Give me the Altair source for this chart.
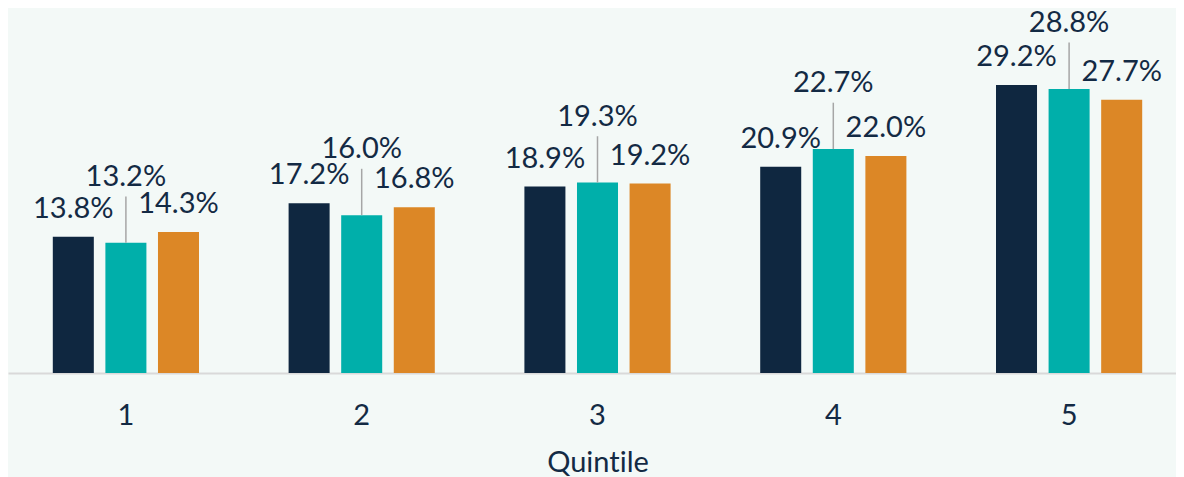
import altair as alt
import pandas as pd

quintiles = ["1", "2", "3", "4", "5"]
series_names = ["Series A", "Series B", "Series C"]
series_a = [13.8, 17.2, 18.9, 20.9, 29.2]
series_b = [13.2, 16.0, 19.3, 22.7, 28.8]
series_c = [14.3, 16.8, 19.2, 22.0, 27.7]
colors = ["#0f2740", "#00afaa", "#dc8726"]

rows = []
for name, vals in zip(series_names, [series_a, series_b, series_c]):
    for q, v in zip(quintiles, vals):
        rows.append({"q": q, "s": name, "v": v})
df = pd.DataFrame(rows)

FONT = "Lato"
TXT = "#132a44"
FS = 29

x_enc = alt.X(
    "q:N",
    sort=quintiles,
    scale=alt.Scale(paddingInner=0.38, paddingOuter=0.19, range=[0, 1179]),
    axis=alt.Axis(
        title="Quint\u200cile",
        labelAngle=0,
        ticks=False,
        tickSize=0,
        grid=False,
        domainColor="#d9d9d9",
        domainWidth=2,
        labelFont=FONT,
        labelFontSize=FS,
        labelColor=TXT,
        labelPadding=28,
        titleFont=FONT,
        titleFontSize=FS,
        titleFontWeight="normal",
        titleColor=TXT,
        titlePadding=18,
    ),
)
xo_enc = alt.XOffset("s:N", sort=series_names, scale=alt.Scale(paddingInner=0.22, paddingOuter=0))
y_enc = alt.Y("v:Q", scale=alt.Scale(domain=[0, 37]), axis=None)

base = alt.Chart(df).encode(x=x_enc, xOffset=xo_enc)

bars = base.mark_bar().encode(
    y=y_enc,
    color=alt.Color("s:N", scale=alt.Scale(domain=series_names, range=colors), legend=None),
)

labelled = base.transform_calculate(label="format(datum.v, '.1f') + '%'")

side_labels = labelled.transform_filter("datum.s != 'Series B'").mark_text(
    font=FONT, fontSize=FS, color=TXT, baseline="alphabetic", dy=-19
).encode(y=y_enc, text="label:N")

mid_labels = labelled.transform_filter("datum.s == 'Series B'").mark_text(
    font=FONT, fontSize=FS, color=TXT, baseline="alphabetic", dy=-57
).encode(y=y_enc, text="label:N")

leaders = base.transform_filter("datum.s == 'Series B'").transform_calculate(
    top="datum.v + 4.7"
).mark_bar(size=1.5, color="#a6a6a6").encode(y=y_enc, y2="top:Q")

chart = (
    alt.layer(bars, leaders, side_labels, mid_labels)
    .properties(
        width=1168,
        height=365,
        autosize=alt.AutoSizeParams(type="none"),
        padding={"left": 0, "top": 0, "right": 0, "bottom": 106},
    )
    .configure(background="#f3f9f7")
    .configure_view(stroke=None)
)

chart.save("out.html", embed_options={"renderer": "svg", "actions": False})
